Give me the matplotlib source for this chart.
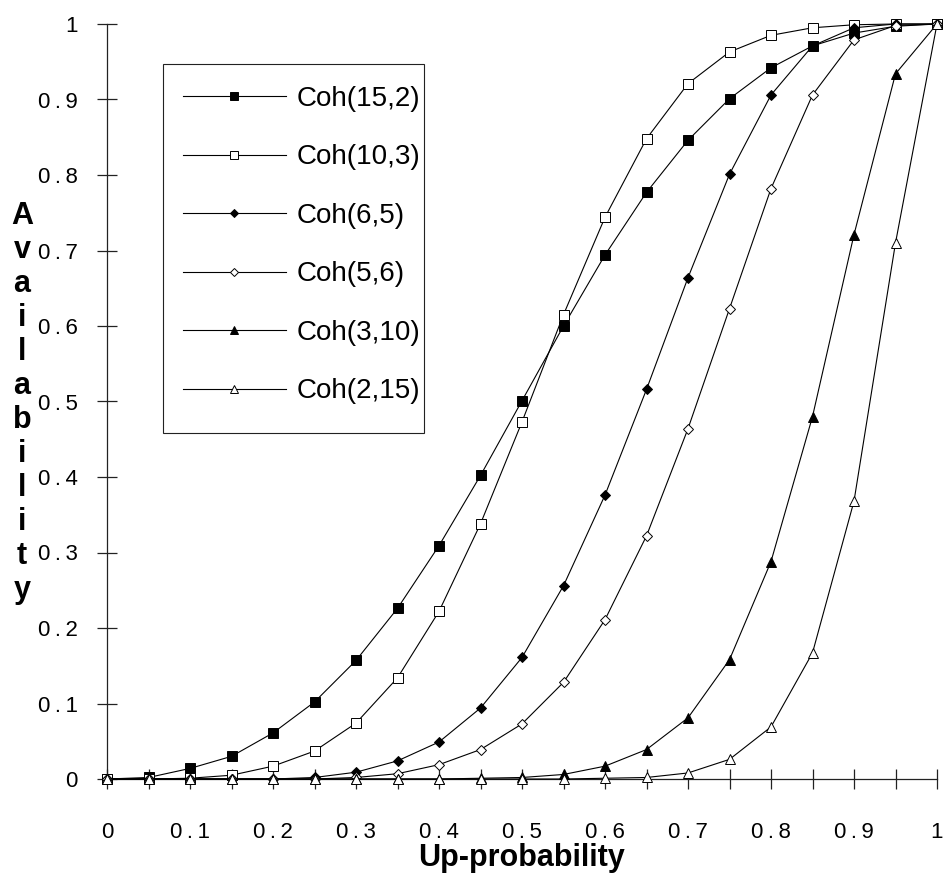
import matplotlib
matplotlib.use("Agg")
import matplotlib.pyplot as plt
from matplotlib.ticker import MultipleLocator
from matplotlib.patches import Rectangle
import numpy as np

plt.rcParams["font.family"] = ["Liberation Sans", "DejaVu Sans"]

# Up-probability grid
up_prob = [0.0, 0.05, 0.1, 0.15, 0.2, 0.25, 0.3, 0.35, 0.4, 0.45, 0.5,
           0.55, 0.6, 0.65, 0.7, 0.75, 0.8, 0.85, 0.9, 0.95, 1.0]

# availability
coh_15_2 = [0.0, 0.002, 0.014, 0.03, 0.061, 0.102, 0.157, 0.226, 0.309, 0.402, 0.501,
            0.600, 0.694, 0.777, 0.846, 0.901, 0.942, 0.971, 0.988, 0.997, 1.0]
coh_10_3 = [0.0, 0.0, 0.001, 0.005, 0.017, 0.037, 0.074, 0.134, 0.222, 0.338, 0.473,
            0.615, 0.744, 0.848, 0.921, 0.963, 0.985, 0.995, 0.999, 1.0, 1.0]
coh_6_5 = [0.0, 0.0, 0.0, 0.0, 0.0, 0.002, 0.009, 0.024, 0.049, 0.094, 0.161,
           0.256, 0.376, 0.516, 0.664, 0.801, 0.906, 0.971, 0.995, 1.0, 1.0]
coh_5_6 = [0.0, 0.0, 0.0, 0.0, 0.0, 0.0, 0.002, 0.007, 0.019, 0.039, 0.073,
           0.128, 0.211, 0.322, 0.464, 0.623, 0.782, 0.906, 0.979, 0.998, 1.0]
coh_3_10 = [0.0, 0.0, 0.0, 0.0, 0.0, 0.0, 0.0, 0.0, 0.0, 0.001, 0.002,
            0.006, 0.017, 0.039, 0.081, 0.158, 0.288, 0.480, 0.721, 0.934, 1.0]
coh_2_15 = [0.0, 0.0, 0.0, 0.0, 0.0, 0.0, 0.0, 0.0, 0.0, 0.0, 0.0,
            0.0, 0.001, 0.002, 0.008, 0.026, 0.069, 0.167, 0.368, 0.710, 1.0]

series = [
    ("Coh(15,2)", coh_15_2, "s", "black", 6.5),
    ("Coh(10,3)", coh_10_3, "s", "white", 6.5),
    ("Coh(6,5)", coh_6_5, "D", "black", 5.5),
    ("Coh(5,6)", coh_5_6, "D", "white", 5.5),
    ("Coh(3,10)", coh_3_10, "^", "black", 7.5),
    ("Coh(2,15)", coh_2_15, "^", "white", 7.5),
]

fig = plt.figure(figsize=(9.48, 8.88), dpi=100)
ax = fig.add_axes([107 / 948, 1 - 779 / 888, 830 / 948, 755 / 888])

for label, vals, marker, face, ms in series:
    ax.plot(up_prob, vals, color="black", linewidth=0.8, marker=marker,
            markersize=ms, markerfacecolor=face, markeredgecolor="black",
            markeredgewidth=0.7, label=label, clip_on=False, zorder=3)

ax.set_xlim(0, 1)
ax.set_ylim(0, 1)
for side in ("top", "right"):
    ax.spines[side].set_visible(False)
for side in ("left", "bottom"):
    ax.spines[side].set_linewidth(0.9)
    ax.spines[side].set_color("#222222")

ax.xaxis.set_minor_locator(MultipleLocator(0.05))


def fmt(v):
    if abs(v) < 1e-9:
        return "0"
    if abs(v - 1) < 1e-9:
        return "1"
    return "0\u2009.\u2009" + f"{v:.1f}"[-1]


ticks = np.round(np.arange(0, 1.01, 0.1), 2)
ax.set_xticks(ticks)
ax.set_xticklabels([fmt(t) for t in ticks])
ax.set_yticks(ticks)
ax.set_yticklabels([fmt(t) for t in ticks])

ax.tick_params(axis="both", which="both", direction="inout", length=14.4,
               width=0.9, color="#222222")
ax.tick_params(axis="x", which="major", labelsize=16, pad=24)
ax.tick_params(axis="y", which="major", labelsize=16, pad=14)

ax.set_xlabel("Up-probability", fontsize=22, fontweight="bold", labelpad=0)

# vertical stacked y label
word = "Availability"
y0 = 216
step = 34.0
for i, ch in enumerate(word):
    fig.text(22 / 948, 1 - (y0 + i * step) / 888, ch, fontsize=22,
             fontweight="bold", ha="center", va="center")

# legend without its own frame, boxed by a plain rectangle
leg = ax.legend(loc="upper left", bbox_to_anchor=(0.0916, 0.918),
                borderaxespad=0, borderpad=0, fontsize=20, frameon=False,
                handlelength=3.7, handletextpad=0.4,
                labelspacing=1.17, markerscale=0.8)
box = Rectangle((0.0675, 0.458), 0.3145, 0.489, transform=ax.transAxes,
                fill=False, edgecolor="#222222", linewidth=0.8, zorder=4)
ax.add_patch(box)

fig.savefig("out.png", dpi=100)
